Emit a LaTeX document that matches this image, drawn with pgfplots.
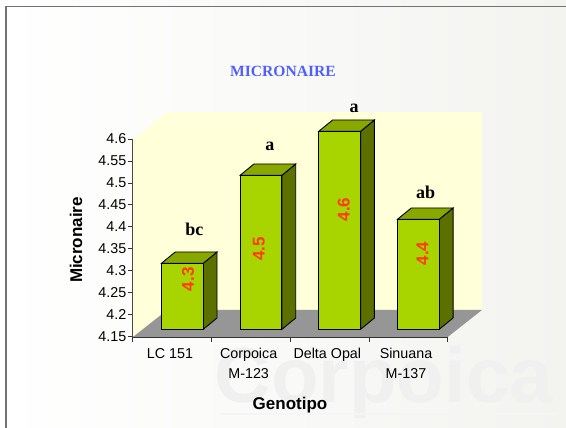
\documentclass[border=0pt]{standalone}
\usepackage{pgfplots}
\pgfplotsset{compat=1.18}
\usepackage{fontspec}
\setmainfont{Liberation Sans}
\newfontfamily\serifb[Scale=1]{Liberation Serif}
\definecolor{wall}{HTML}{FFFFD9}
\definecolor{floorc}{HTML}{969696}
\definecolor{frontc}{HTML}{A8D400}
\definecolor{sidec}{HTML}{5C7000}
\definecolor{topc}{HTML}{88A800}
\definecolor{bgr}{HTML}{F3F4F0}
\definecolor{titleb}{HTML}{5060FF}
\definecolor{valr}{HTML}{FF3A10}
\newcommand{\fsz}[1]{\fontsize{#1}{#1}\selectfont}
\begin{document}
\begin{tikzpicture}[x=1pt,y=1pt]
\path[use as bounding box] (0,0) rectangle (566,428);
\shade[left color=white,right color=bgr,shading angle=90] (0,0) rectangle (566,428);
\begin{scope}
\clip (0,0) rectangle (566,428);
\node[text=black!6,anchor=base] at (384,25) {\fsz{78}\textbf{Corpoica}};
\fill[black!4] (220,12.5) rectangle (556,15);
\end{scope}
\draw[line width=1.6pt,color=black!55] (6,0) -- (6,421.3) -- (566,421.3);
\node at (283,357) {\serifb\fsz{15.6}\bfseries\color{titleb}MICRONAIRE};
% walls, floor, scale
\begin{axis}[
  at={(133pt,91pt)},anchor=south west,
  scale only axis,width=314.7pt,height=198pt,
  xmin=0,xmax=4,ymin=4.15,ymax=4.6,
  clip=false,
  axis x line*=bottom,axis y line*=left,
  axis line style={line width=1.5pt,color=black!80,-},
  tick style={line width=1pt,color=black!80},
  major tick length=5pt,
  tick align=outside,
  xtick={0,1,2,3,4},xticklabels={},
  extra x ticks={0.47,1.47,2.47,3.47},
  extra x tick labels={LC 151,Corpoica\\M-123,Delta Opal,Sinuana\\M-137},
  extra x tick style={major tick length=0pt,tick label style={align=center,font=\fontsize{14.3}{20}\selectfont,yshift=-8pt}},
  y tick label style={font=\fsz{14.3},inner sep=1.5pt},
  ytick={4.15,4.2,4.25,4.3,4.35,4.4,4.45,4.5,4.55,4.6},
  yticklabels={4.15,4.2,4.25,4.3,4.35,4.4,4.45,4.5,4.55,4.6},
  xlabel={\textbf{Genotipo}},ylabel={\textbf{Micronaire}},
  xlabel style={font=\fsz{17},at={(axis description cs:0.499,-0.343)},anchor=center},
  ylabel style={font=\fsz{17},at={(axis description cs:-0.181,0.49)},anchor=center,rotate=0},
]
\addplot[fill=wall,draw=none] coordinates {(0,4.15)(0.436,4.2114)(0.436,4.6614)(0,4.6)} --cycle;
\addplot[fill=wall,draw=none] coordinates {(0.436,4.2114)(4.436,4.2114)(4.436,4.6614)(0.436,4.6614)} --cycle;
\addplot[fill=floorc,draw=none] coordinates {(0,4.15)(4,4.15)(4.436,4.2114)(0.436,4.2114)} --cycle;
\end{axis}
% bars
\begin{axis}[
  at={(143pt,98.7pt)},anchor=south west,
  scale only axis,width=314.7pt,height=198pt,
  xmin=0,xmax=4,ymin=4.15,ymax=4.6,
  axis lines=none,clip=false,
]
\addplot[fill=sidec,draw=black,line width=0.9pt] coordinates {(0.7655,4.15)(0.941,4.1757)(0.941,4.3257)(0.7655,4.3)} --cycle;
\addplot[fill=topc,draw=black,line width=0.9pt] coordinates {(0.2345,4.3)(0.7655,4.3)(0.941,4.3257)(0.41,4.3257)} --cycle;
\addplot[fill=sidec,draw=black,line width=0.9pt] coordinates {(1.7655,4.15)(1.941,4.1757)(1.941,4.5257)(1.7655,4.5)} --cycle;
\addplot[fill=topc,draw=black,line width=0.9pt] coordinates {(1.2345,4.5)(1.7655,4.5)(1.941,4.5257)(1.41,4.5257)} --cycle;
\addplot[fill=sidec,draw=black,line width=0.9pt] coordinates {(2.7655,4.15)(2.941,4.1757)(2.941,4.6257)(2.7655,4.6)} --cycle;
\addplot[fill=topc,draw=black,line width=0.9pt] coordinates {(2.2345,4.6)(2.7655,4.6)(2.941,4.6257)(2.41,4.6257)} --cycle;
\addplot[fill=sidec,draw=black,line width=0.9pt] coordinates {(3.7655,4.15)(3.941,4.1757)(3.941,4.4257)(3.7655,4.4)} --cycle;
\addplot[fill=topc,draw=black,line width=0.9pt] coordinates {(3.2345,4.4)(3.7655,4.4)(3.941,4.4257)(3.41,4.4257)} --cycle;
\addplot[ybar,bar width=41.8pt,fill=frontc,draw=black,line width=0.9pt] coordinates {(0.5,4.3)(1.5,4.5)(2.5,4.6)(3.5,4.4)};
\end{axis}
% labels above and inside the bars
\begin{axis}[
  at={(133pt,91pt)},anchor=south west,
  scale only axis,width=314.7pt,height=198pt,
  xmin=0,xmax=4,ymin=4.15,ymax=4.6,
  axis lines=none,clip=false,
]
\node[font=\serifb\fsz{18}\bfseries] at (axis cs:0.78,4.394) {bc};
\node[font=\serifb\fsz{18}\bfseries] at (axis cs:1.74,4.583) {a};
\node[font=\serifb\fsz{18}\bfseries] at (axis cs:2.81,4.669) {a};
\node[font=\serifb\fsz{18}\bfseries] at (axis cs:3.72,4.478) {ab};
\node[rotate=90,text=valr,font=\fsz{17}\bfseries] at (axis cs:0.7,4.281) {4.3};
\node[rotate=90,text=valr,font=\fsz{17}\bfseries] at (axis cs:1.6,4.35) {4.5};
\node[rotate=90,text=valr,font=\fsz{17}\bfseries] at (axis cs:2.68,4.44) {4.6};
\node[rotate=90,text=valr,font=\fsz{17}\bfseries] at (axis cs:3.68,4.34) {4.4};
\end{axis}
\end{tikzpicture}
\end{document}
